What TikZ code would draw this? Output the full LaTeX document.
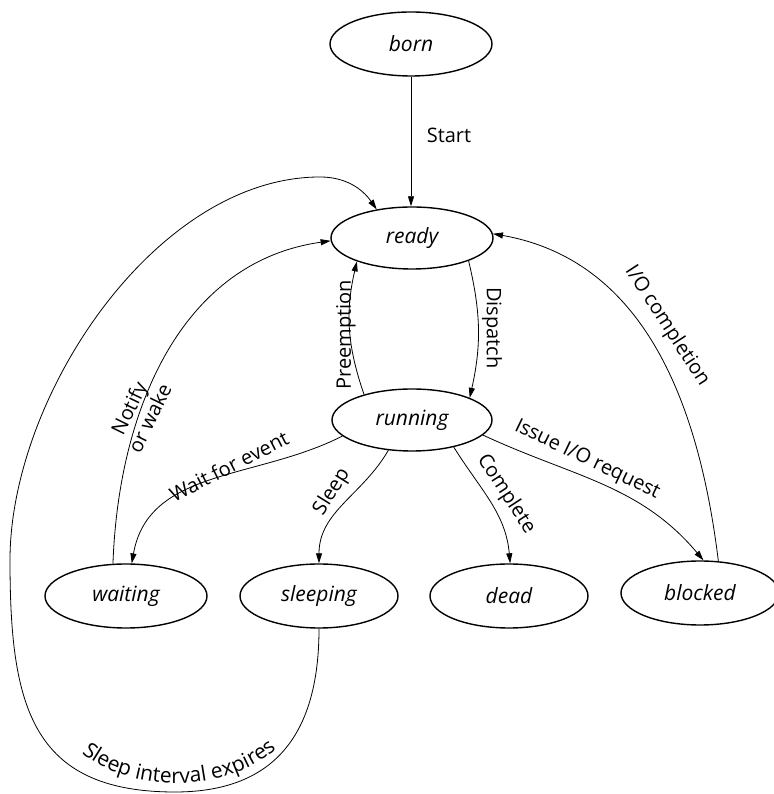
\documentclass[tikz,border=0pt]{standalone}
\usepackage{fontspec}
\setmainfont{Open Sans}
\usetikzlibrary{shapes.geometric,arrows.meta,decorations.text}
\begin{document}
\begin{tikzpicture}[x=1pt,y=1pt,
  state/.style={ellipse,draw,line width=1.4pt,minimum width=160pt,minimum height=62pt,inner sep=0pt,
    font=\fontsize{21}{25}\selectfont\itshape},
  lbl/.style={font=\fontsize{20}{24}\selectfont,inner sep=1pt},
  conn/.style={line width=0.8pt,-{Triangle[length=10pt,width=6pt]}},
]
\useasboundingbox (0,0) rectangle (773,794);
\fill[white] (0,0) rectangle (773,794);

\node[state,minimum width=162pt,minimum height=64pt] (born) at (411,750) {born};
\node[state,minimum width=162pt] (ready) at (412,556) {ready};
\node[state] (running) at (412,374) {running};
\node[state,minimum width=162pt,minimum height=64pt] (waiting) at (126,198) {waiting};
\node[state,minimum width=158pt,minimum height=64pt] (sleeping) at (319,198) {sleeping};
\node[state,minimum width=158pt,minimum height=64pt] (dead) at (509,198) {dead};
\node[state,minimum width=158pt,minimum height=64pt] (blocked) at (700,201) {blocked};

\coordinate (sb) at (175,2);
\coordinate (sl) at (10,234);
\coordinate (st) at (320,617);

% connectors
\draw[conn] (born.south) -- (born.south |- ready.north);
\draw[conn] (ready.-22) to[bend left=13] (running.21);
\draw[conn] (running.152) to[bend left=16] (ready.203);
\draw[conn] (running.193) to[out=207,in=80] (waiting.80);
\draw[conn] (running.232) to[out=240,in=90] (sleeping.90);
\draw[conn] (running.-33) to[out=-58,in=95] (dead.88);
\draw[conn] (running.-12) to[out=-25,in=130] (blocked.84);
\draw[conn] (blocked.60) to[out=97,in=-10] (ready.3);
\draw[conn] (waiting.112) to[out=88,in=188] (ready.182);
\draw[conn] (sleeping.270) to[out=-90,in=0,looseness=1.2] (sb) to[out=180,in=-90,looseness=1.3] (sl)
   to[out=90,in=180,looseness=0.85] (st) to[out=0,in=125] (ready.141);

% labels
\node[lbl] (lstart) at (449,659) {Start};
\node[lbl,rotate=-90] (ldispatch) at (492,466) {Dispatch};
\node[lbl,rotate=90] (lpre) at (346,459) {Preemption};
\node[lbl,rotate=27] (lwait) at (229,328) {Wait for event};
\node[lbl,rotate=58] (lsleep) at (332,302) {Sleep};
\node[lbl,rotate=-57] (lcomplete) at (506,300) {Complete};
\node[lbl,rotate=-25.6] (lissue) at (587,334) {Issue I/O request};
\node[lbl,rotate=-57] (lio) at (667,468) {I/O completion};
\node[lbl,rotate=64,align=center,font=\fontsize{20}{23}\selectfont] (lnotify) at (139,381) {Notify\\or wake};
\path[decorate,decoration={text along path,text align=center,
   text={|\fontsize{21}{25}\selectfont|Sleep interval expires}}]
   (60,66) .. controls (104,-8) and (250,-8) .. (298,70);
\end{tikzpicture}
\end{document}
